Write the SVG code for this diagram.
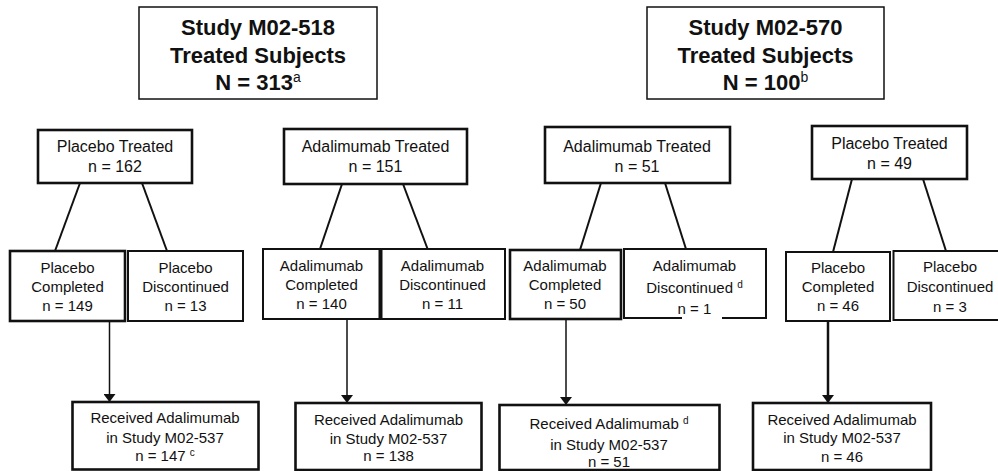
<svg xmlns="http://www.w3.org/2000/svg" width="998" height="471" viewBox="0 0 998 471">
<style>
.big{fill:#fff;stroke:#111;stroke-width:1.5}
.box{fill:#fff;stroke:#111;stroke-width:2.6}
.thin{fill:#fff;stroke:#111;stroke-width:2}
.tb{font-family:"Liberation Sans",Arial,sans-serif;font-size:22px;font-weight:bold;fill:#111;text-anchor:middle}
.t2{font-family:"Liberation Sans",Arial,sans-serif;font-size:16px;fill:#111;text-anchor:middle}
.t3{font-family:"Liberation Sans",Arial,sans-serif;font-size:15px;fill:#111;text-anchor:middle}
.sup{font-size:10px}
.ln{stroke:#111;stroke-width:2;fill:none}
.ar{stroke:#111;stroke-width:1.5;fill:none;marker-end:url(#ah)}
</style>
<defs>
<marker id="ah" markerUnits="userSpaceOnUse" markerWidth="9" markerHeight="12" refX="8" refY="6" orient="auto">
<path d="M0,0 L8,6 L0,12 Z" fill="#111"/>
</marker>
</defs>
<g id="connectors">
<line class="ln" x1="80" y1="183" x2="55" y2="251"/>
<line class="ln" x1="142" y1="183" x2="167" y2="251"/>
<line class="ln" x1="342" y1="184" x2="320" y2="249"/>
<line class="ln" x1="403" y1="184" x2="428" y2="250"/>
<line class="ln" x1="601" y1="183" x2="580" y2="250"/>
<line class="ln" x1="665" y1="183" x2="686" y2="249"/>
<line class="ln" x1="852" y1="179" x2="833" y2="252"/>
<line class="ln" x1="923" y1="179" x2="946" y2="251"/>
<line class="ar" x1="109.5" y1="321" x2="109.5" y2="402"/>
<line class="ar" x1="347" y1="320" x2="347" y2="403"/>
<line class="ar" x1="566" y1="319" x2="566" y2="405"/>
<line class="ar" x1="828" y1="321" x2="828" y2="403" style="stroke-width:2.5"/>
</g>
<g id="study518">
<rect class="big" x="139" y="7" width="238" height="92"/>
<text class="tb" x="258" y="35">Study M02-518</text>
<text class="tb" x="258" y="63">Treated Subjects</text>
<text class="tb" x="258" y="90">N = 313<tspan font-size="14" font-weight="normal" dy="-8">a</tspan></text>
</g>
<g id="study570">
<rect class="big" x="647" y="7" width="237" height="92"/>
<text class="tb" x="765.5" y="35">Study M02-570</text>
<text class="tb" x="765.5" y="63">Treated Subjects</text>
<text class="tb" x="765.5" y="90">N = 100<tspan font-size="14" font-weight="normal" dy="-8">b</tspan></text>
</g>
<g id="placeboTreated518">
<rect class="box" x="38" y="130" width="154" height="53"/>
<text class="t2" x="115" y="152">Placebo Treated</text>
<text class="t2" x="115" y="172">n = 162</text>
</g>
<g id="adaTreated518">
<rect class="box" x="284" y="129" width="183" height="55"/>
<text class="t2" x="375.5" y="152">Adalimumab Treated</text>
<text class="t2" x="375.5" y="172">n = 151</text>
</g>
<g id="adaTreated570">
<rect class="box" x="545" y="127" width="185" height="56"/>
<text class="t2" x="637" y="152">Adalimumab Treated</text>
<text class="t2" x="637" y="172">n = 51</text>
</g>
<g id="placeboTreated570">
<rect class="box" x="812" y="126" width="155" height="53"/>
<text class="t2" x="889.5" y="149">Placebo Treated</text>
<text class="t2" x="889.5" y="169">n = 49</text>
</g>
<g id="placeboCompleted518">
<rect class="box" x="10" y="251" width="115" height="70"/>
<text class="t3" x="67.5" y="273">Placebo</text>
<text class="t3" x="67.5" y="292">Completed</text>
<text class="t3" x="67.5" y="311">n = 149</text>
</g>
<g id="placeboDisc518">
<rect class="thin" x="128" y="251" width="115" height="70"/>
<text class="t3" x="185.5" y="273">Placebo</text>
<text class="t3" x="185.5" y="292">Discontinued</text>
<text class="t3" x="185.5" y="311">n = 13</text>
</g>
<g id="adaCompleted518">
<rect class="thin" x="263" y="249" width="117" height="70"/>
<text class="t3" x="321.5" y="271">Adalimumab</text>
<text class="t3" x="321.5" y="290">Completed</text>
<text class="t3" x="321.5" y="309">n = 140</text>
</g>
<g id="adaDisc518">
<rect class="thin" x="380" y="249" width="125" height="70"/>
<line x1="380.5" y1="249" x2="380.5" y2="319" stroke="#111" stroke-width="4"/>
<text class="t3" x="442.5" y="271">Adalimumab</text>
<text class="t3" x="442.5" y="290">Discontinued</text>
<text class="t3" x="442.5" y="309">n = 11</text>
</g>
<g id="adaCompleted570">
<rect class="box" x="510" y="250" width="111" height="69"/>
<text class="t3" x="565" y="271">Adalimumab</text>
<text class="t3" x="565" y="290">Completed</text>
<text class="t3" x="565" y="309">n = 50</text>
</g>
<g id="adaDisc570">
<rect class="thin" x="624" y="249" width="142" height="69"/>
<rect x="682" y="312" width="40" height="8" fill="#fff"/>
<text class="t3" x="694.5" y="271">Adalimumab</text>
<text class="t3" x="694.5" y="293">Discontinued <tspan class="sup" dy="-5">d</tspan></text>
<text class="t3" x="694.5" y="314">n = 1</text>
</g>
<g id="placeboCompleted570">
<rect class="thin" x="786" y="252" width="104" height="69"/>
<text class="t3" x="838" y="273">Placebo</text>
<text class="t3" x="838" y="292">Completed</text>
<text class="t3" x="838" y="311">n = 46</text>
</g>
<g id="placeboDisc570">
<rect class="thin" x="893.5" y="251" width="110" height="69"/>
<text class="t3" x="950" y="272">Placebo</text>
<text class="t3" x="950" y="292">Discontinued</text>
<text class="t3" x="950" y="312">n = 3</text>
</g>
<g id="received1">
<rect class="box" x="72.5" y="402" width="186" height="67.5"/>
<text class="t3" x="165" y="423">Received Adalimumab</text>
<text class="t3" x="165" y="443">in Study M02-537</text>
<text class="t3" x="165" y="461">n = 147 <tspan class="sup" dy="-5">c</tspan></text>
</g>
<g id="received2">
<rect class="box" x="295.5" y="403" width="186" height="67"/>
<text class="t3" x="388.5" y="425">Received Adalimumab</text>
<text class="t3" x="388.5" y="443.5">in Study M02-537</text>
<text class="t3" x="388.5" y="461">n = 138</text>
</g>
<g id="received3">
<rect class="box" x="499.5" y="405" width="220" height="65"/>
<text class="t3" x="609" y="429">Received Adalimumab <tspan class="sup" dy="-5">d</tspan></text>
<text class="t3" x="609" y="450">in Study M02-537</text>
<text class="t3" x="609" y="467">n = 51</text>
</g>
<g id="received4">
<rect class="box" x="753" y="403" width="178" height="67"/>
<text class="t3" x="842" y="425">Received Adalimumab</text>
<text class="t3" x="842" y="443">in Study M02-537</text>
<text class="t3" x="842" y="462">n = 46</text>
</g>
</svg>
